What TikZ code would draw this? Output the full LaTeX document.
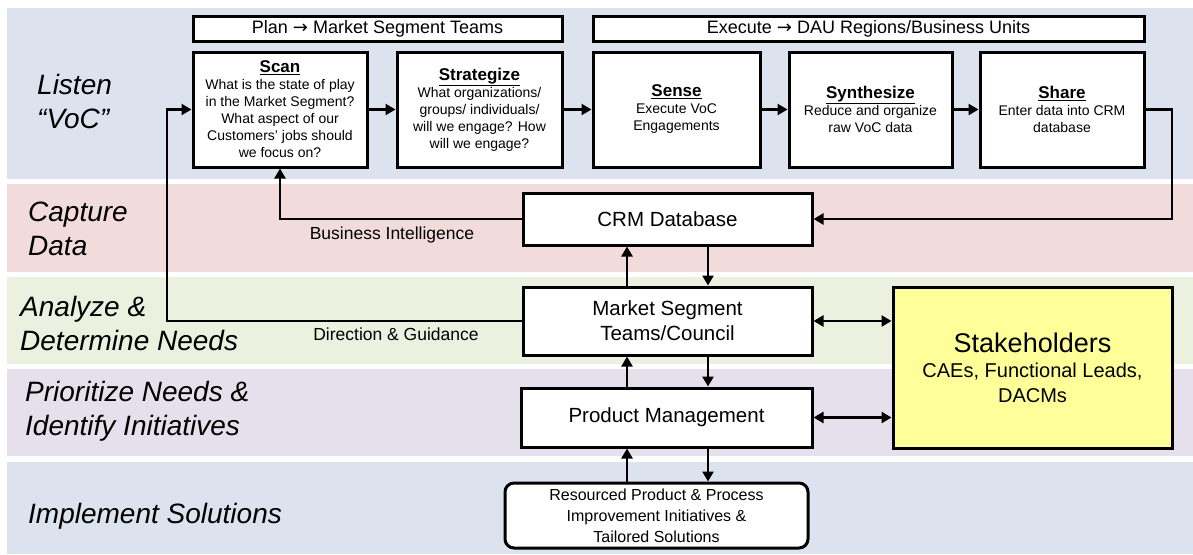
\documentclass[tikz,border=0pt]{standalone}
\usepackage{fontspec}
\setmainfont{Liberation Sans}
\newfontfamily\djv{DejaVu Sans}
\usetikzlibrary{arrows.meta,calc}
\definecolor{bandblue}{HTML}{DCE3EF}
\definecolor{bandpink}{HTML}{F2DCDB}
\definecolor{bandgreen}{HTML}{EBF1DE}
\definecolor{bandlav}{HTML}{E5E0EC}
\definecolor{stakeyellow}{HTML}{FFFF99}
\begin{document}
\begin{tikzpicture}[x=1pt,y=-1pt,
  box/.style={draw=black,line width=3pt,fill=white,inner sep=0pt,align=center},
  hdr/.style={box,font=\fontsize{18}{20}\selectfont},
  stepbox/.style={box,minimum height=115pt,font=\fontsize{14}{17}\selectfont},
  midbox/.style={box,minimum width=289pt,font=\fontsize{20.5}{25}\selectfont},
  lane/.style={anchor=west,align=left,inner sep=0pt,font=\fontsize{28}{34}\selectfont\itshape},
  conn/.style={line width=2.5pt,-{Triangle[length=10pt,width=11pt]}},
  dconn/.style={line width=2.5pt,{Triangle[length=10pt,width=11pt]}-{Triangle[length=10pt,width=11pt]}},
  lbl/.style={inner sep=0pt,font=\fontsize{17.5}{20}\selectfont}]
\useasboundingbox (0,0) rectangle (1193,554);
\fill[white] (0,0) rectangle (1193,554);
% bands
\fill[bandblue] (7,8) rectangle (1193,179);
\fill[bandpink] (7,184) rectangle (1193,272);
\fill[bandgreen] (7,277) rectangle (1193,364);
\fill[bandlav] (7,369) rectangle (1193,456);
\fill[bandblue] (7,462) rectangle (1193,554);
% lane labels
\node[lane] (l1) at (37,101) {Listen\\“VoC”};
\node[lane] (l2) at (28,229) {Capture\\Data};
\node[lane] (l3) at (20,323) {Analyze \&\\Determine Needs};
\node[lane] (l4) at (25,411) {Prioritize Needs \&\\Identify Initiatives};
\node[lane] (l5) at (28,516) {Implement Solutions};
% headers
\node[hdr,minimum width=369pt,minimum height=25pt] (plan) at (377.5,28.5) {Plan {\djv →} Market Segment Teams};
\node[hdr,minimum width=551pt,minimum height=25pt] (exec) at (868.5,28.5) {Execute {\djv →} DAU Regions/Business Units};
% step boxes
\node[stepbox,minimum width=174pt] (scan) at (280,109.5) {{\fontsize{17}{19}\selectfont\bfseries\underline{Scan}}\\What is the state of play\\in the Market Segment?\\What aspect of our\\Customers’ jobs should\\we focus on?};
\node[stepbox,minimum width=165pt] (strat) at (479.5,109.5) {{\fontsize{17}{19}\selectfont\bfseries\underline{Strategize}}\\What organizations/\\groups/ individuals/\\will we engage? How\\will we engage?};
\node[stepbox,minimum width=167pt] (sense) at (676.5,109.5) {{\fontsize{17}{19}\selectfont\bfseries\underline{Sense}}\\Execute VoC\\Engagements};
\node[stepbox,minimum width=163pt] (synth) at (870.5,109.5) {{\fontsize{17}{19}\selectfont\bfseries\underline{Synthesize}}\\Reduce and organize\\raw VoC data};
\node[stepbox,minimum width=164pt] (share) at (1062,109.5) {{\fontsize{17}{19}\selectfont\bfseries\underline{Share}}\\Enter data into CRM\\database};
% middle column
\node[midbox,minimum height=52pt] (crm) at (667.5,219) {CRM Database};
\node[midbox,minimum height=68pt] (mst) at (667.5,321) {Market Segment\\Teams/Council};
\node[midbox,minimum width=291pt,minimum height=59pt] (pm) at (666.5,417.5) {Product Management};
\node[box,rounded corners=9pt,minimum width=303pt,minimum height=65pt,font=\fontsize{16}{21}\selectfont] (res) at (656.5,515.5) {Resourced Product \& Process\\Improvement Initiatives \&\\Tailored Solutions};
\node[box,fill=stakeyellow,minimum width=279pt,minimum height=161pt,font=\fontsize{20}{25}\selectfont] (stake) at (1032.5,367.5) {{\fontsize{27}{32}\selectfont Stakeholders}\\CAEs, Functional Leads,\\DACMs};
% connectors top row
\draw[conn] (scan) -- (strat);
\draw[conn] (strat) -- (sense);
\draw[conn] (sense) -- (synth);
\draw[conn] (synth) -- (share);
\coordinate (sharecorner) at (1172,219);
\draw[conn] (share.east) -| (sharecorner) -- (crm.east);
% feedback
\draw[conn] (crm.west) -| (scan.south);
\coordinate (fbtop) at (167,109.5);
\draw[conn] (mst.west) -| (fbtop) -- (scan.west);
\node[lbl] (bi) at (392,235) {Business Intelligence};
\node[lbl] (dg) at (396,334) {Direction \& Guidance};
% vertical arrows
\coordinate (ux) at (627,0);
\coordinate (dx) at (708,0);
\draw[conn] (ux |- mst.north) -- (ux |- crm.south);
\draw[conn] (dx |- crm.south) -- (dx |- mst.north);
\draw[conn] (ux |- pm.north) -- (ux |- mst.south);
\draw[conn] (dx |- mst.south) -- (dx |- pm.north);
\draw[conn] (ux |- res.north) -- (ux |- pm.south);
\draw[conn] (dx |- pm.south) -- (dx |- res.north);
% stakeholders
\draw[dconn] (mst.east) -- (mst.east -| stake.west);
\draw[dconn] (pm.east) -- (pm.east -| stake.west);
\end{tikzpicture}
\end{document}
